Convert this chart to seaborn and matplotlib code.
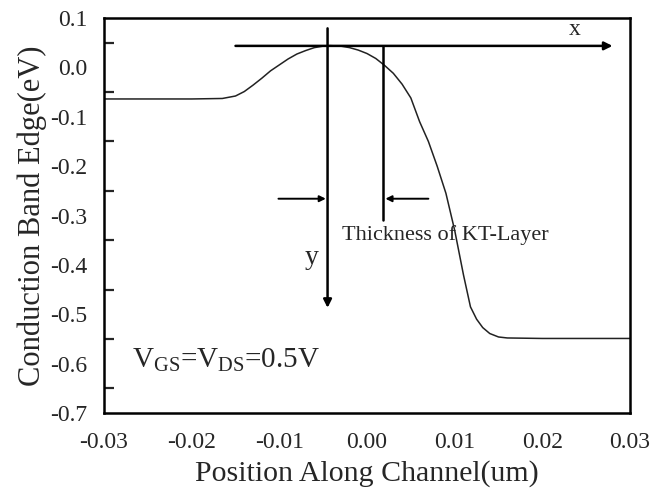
import matplotlib
matplotlib.use("Agg")
import matplotlib.pyplot as plt
import seaborn as sns
import pandas as pd
import numpy as np
from matplotlib.ticker import MultipleLocator

# Conduction band edge along the channel (um, eV)
position = [-0.030, -0.020, -0.0165, -0.0150, -0.0140, -0.0130, -0.0120, -0.0110,
            -0.0100, -0.0090, -0.0080, -0.0070, -0.0060, -0.0050, -0.0042, -0.0030,
            -0.0020, -0.0010, 0.0000, 0.0010, 0.0020, 0.0030, 0.0040, 0.0050,
            0.0060, 0.0070, 0.0080, 0.0090, 0.0100, 0.0110, 0.0118, 0.0125,
            0.0132, 0.0140, 0.0150, 0.0160, 0.0200, 0.0300]
band_edge = [-0.064, -0.064, -0.063, -0.058, -0.049, -0.036, -0.022, -0.007,
             0.005, 0.017, 0.027, 0.034, 0.040, 0.043, 0.044, 0.043,
             0.040, 0.035, 0.028, 0.018, 0.004, -0.012, -0.034, -0.062,
             -0.110, -0.150, -0.200, -0.255, -0.330, -0.420, -0.485, -0.510,
             -0.527, -0.539, -0.546, -0.548, -0.549, -0.549]

x_ticks = [-0.03, -0.02, -0.01, 0.00, 0.01, 0.02, 0.03]
x_tick_labels = ["-0.03", "-0.02", "-0.01", "0.00", "0.01", "0.02", "0.03"]
y_ticks = [-0.7, -0.6, -0.5, -0.4, -0.3, -0.2, -0.1, 0.0, 0.1]
y_tick_labels = ["-0.7", "-0.6", "-0.5", "-0.4", "-0.3", "-0.2", "-0.1", "0.0", "0.1"]

# coordinate-system sketch on top of the curve
peak_x = -0.0045
layer_edge_x = 0.0018
x_axis_level = 0.0435

sns.set_style("white")
plt.rcParams["font.family"] = ["Liberation Serif", "DejaVu Serif"]
plt.rcParams["mathtext.fontset"] = "custom"
plt.rcParams["mathtext.rm"] = "Liberation Serif"
plt.rcParams["mathtext.it"] = "Liberation Serif"

fig = plt.figure(figsize=(6.52, 4.90), dpi=100)
ax = fig.add_axes([0.1595, 0.1571, 0.8068, 0.8062])

df = pd.DataFrame({"position": position, "band_edge": band_edge})
sns.lineplot(data=df, x="position", y="band_edge", ax=ax, color="#222222", linewidth=1.1)

ax.set_xlim(-0.03, 0.03)
ax.set_ylim(-0.7, 0.1)
ax.set_xticks(x_ticks)
ax.set_xticklabels(x_tick_labels)
ax.set_yticks(y_ticks)
ax.set_yticklabels(y_tick_labels)
ax.yaxis.set_minor_locator(MultipleLocator(0.05))

ax.tick_params(axis="both", which="major", direction="in", length=12, width=1.8,
               labelsize=17, top=False, right=False)
ax.tick_params(axis="x", pad=14)
ax.tick_params(axis="y", pad=12)
ax.tick_params(axis="y", which="minor", direction="in", length=7, width=1.6, left=True)

for side in ["left", "bottom", "top", "right"]:
    ax.spines[side].set_linewidth(1.8)
    ax.spines[side].set_color("black")

ax.set_xlabel("Position Along Channel(um)", fontsize=21.5, labelpad=5)
ax.set_ylabel("Conduction Band Edge(eV)", fontsize=22, labelpad=2)

arrow_big = dict(arrowstyle="-|>", color="black", lw=1.8, mutation_scale=12, shrinkA=0, shrinkB=0)
arrow_small = dict(arrowstyle="-|>", color="black", lw=1.4, mutation_scale=9, shrinkA=0, shrinkB=0)

# x direction
ax.annotate("", xy=(0.028, x_axis_level), xytext=(-0.015, x_axis_level), arrowprops=arrow_big)
ax.text(0.0237, 0.077, "x", fontsize=17, ha="center", va="center")
# y direction
ax.annotate("", xy=(peak_x, -0.487), xytext=(peak_x, 0.079), arrowprops=arrow_big)
ax.text(-0.0063, -0.386, "y", fontsize=20, ha="center", va="center")
# layer boundary
ax.plot([layer_edge_x, layer_edge_x], [x_axis_level, -0.309], color="black", lw=1.8)
# thickness markers
ax.annotate("", xy=(-0.0047, -0.266), xytext=(-0.0101, -0.266), arrowprops=arrow_small)
ax.annotate("", xy=(0.0021, -0.266), xytext=(0.0070, -0.266), arrowprops=arrow_small)
ax.text(-0.0028, -0.339, "Thickness of KT-Layer", fontsize=16, ha="left", va="center")

ax.text(-0.0268, -0.608, r"V$_{\mathrm{GS}}$=V$_{\mathrm{DS}}$=0.5V", fontsize=21,
        ha="left", va="baseline")

fig.savefig("out.png", dpi=100)
